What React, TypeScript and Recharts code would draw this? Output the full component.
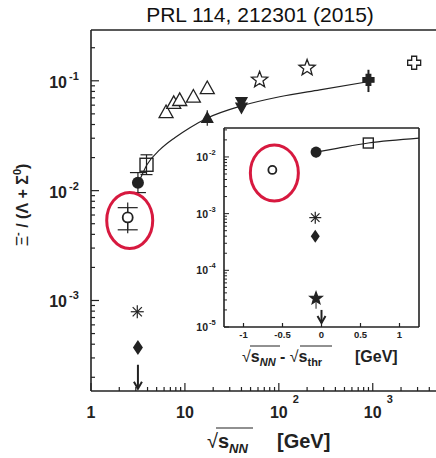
import { ScatterChart, Scatter, XAxis, YAxis, ErrorBar, ReferenceLine } from 'recharts'

const INK = '#222'
const RING = '#d7193f'
const FONT = '"Liberation Sans", Arial, sans-serif'

// ---- main panel: Xi- / (Lambda + Sigma0) vs sqrt(s_NN) ----
const na49 = [
  { x: 6.3, y: 0.052 },
  { x: 7.6, y: 0.063 },
  { x: 8.8, y: 0.067 },
  { x: 12.3, y: 0.072 },
  { x: 17.3, y: 0.086 }
]
const spsFilled = [{ x: 17.3, y: 0.046, ey: [0.007, 0.008] }]
const rhicDown = [
  { x: 40, y: 0.064 },
  { x: 40, y: 0.057 }
]
const rhicStars = [
  { x: 62.4, y: 0.102, ey: [0.01, 0] },
  { x: 200, y: 0.131 }
]
const tevatron = [{ x: 900, y: 0.102, ey: [0.023, 0.024] }]
const lhc = [{ x: 2760, y: 0.146 }]
const agsSquare = [{ x: 3.9, y: 0.0172, ey: [0.0032, 0.004] }]
const agsCircle = [{ x: 3.16, y: 0.0118, ey: [0.0022, 0.0028] }]
const hadesMain = [{ x: 2.46, y: 0.0057, ey: [0.0013, 0.0013], eyTot: [0.0016, 0.0021] }]
const lowAsterisk = [{ x: 3.11, y: 7.9e-4 }]
const lowDiamond = [{ x: 3.16, y: 3.74e-4 }]
const lowLimit = [{ x: 3.16, y: 2.6e-4 }]
const mainFit = [
  { x: 3.32, y: 0.0126 },
  { x: 3.94, y: 0.0172 },
  { x: 5.42, y: 0.0236 },
  { x: 7.8, y: 0.0303 },
  { x: 11.3, y: 0.0374 },
  { x: 17.6, y: 0.0461 },
  { x: 40.4, y: 0.0593 },
  { x: 102, y: 0.0716 },
  { x: 273, y: 0.0828 },
  { x: 885, y: 0.098 }
]

// ---- inset: same ratio vs distance to threshold ----
const insetHades = [{ x: -0.63, y: 0.0059, ey: [0.0008, 0.0008] }]
const insetCircle = [{ x: -0.07, y: 0.0122, ey: [0.0025, 0.0025] }]
const insetSquare = [{ x: 0.6, y: 0.0176 }]
const insetAsterisk = [{ x: -0.08, y: 8.5e-4 }]
const insetDiamond = [{ x: -0.08, y: 4.0e-4 }]
const insetStar = [{ x: -0.07, y: 3.2e-5, ey: [1.1e-5, 0] }]
const insetLimit = [{ x: 0, y: 2.0e-5 }]
const insetFit = [
  { x: -0.07, y: 0.0122 },
  { x: 0.2, y: 0.0142 },
  { x: 0.6, y: 0.0176 },
  { x: 1.25, y: 0.0215 }
]
const insetXTicks = [-1, -0.5, 0, 0.5, 1]

const MAIN_X = [1, 5200]
const MAIN_Y = [1.5e-4, 0.29]
const INSET_X = [-1.25, 1.25]
const INSET_Y = [1e-5, 0.0324]

const logTicks = (lo: number, hi: number) => {
  const out: number[] = []
  for (let e = Math.floor(Math.log10(lo)); e <= Math.ceil(Math.log10(hi)); e++) {
    for (let m = 1; m < 10; m++) {
      const v = m * Math.pow(10, e)
      if (v >= lo * 0.999 && v <= hi * 1.001) out.push(v)
    }
  }
  return out
}
const decade = (v: number) => {
  const l = Math.log10(v)
  return Math.abs(l - Math.round(l)) < 1e-6 ? Math.round(l) : null
}

// ---- marker shapes ----
type P = { cx?: number; cy?: number }

const triangle = (fill: string, r: number, down = false) => ({ cx = 0, cy = 0 }: P) => {
  const s = down ? -1 : 1
  return (
    <polygon
      points={`${cx},${cy - s * r} ${cx - r},${cy + s * r * 0.8} ${cx + r},${cy + s * r * 0.8}`}
      fill={fill}
      stroke={INK}
      strokeWidth={1.3}
    />
  )
}

const starPath = (cx: number, cy: number, R: number, r: number) => {
  let d = ''
  for (let i = 0; i < 10; i++) {
    const a = -Math.PI / 2 + (i * Math.PI) / 5
    const rad = i % 2 ? r : R
    d += (i ? 'L' : 'M') + (cx + rad * Math.cos(a)).toFixed(2) + ',' + (cy + rad * Math.sin(a)).toFixed(2)
  }
  return d + 'Z'
}
const star = (fill: string, R: number) => ({ cx = 0, cy = 0 }: P) => (
  <path d={starPath(cx, cy, R, R * 0.42)} fill={fill} stroke={INK} strokeWidth={1.3} />
)

const plusPath = (cx: number, cy: number, a: number, L: number) =>
  `M${cx - a},${cy - L}H${cx + a}V${cy - a}H${cx + L}V${cy + a}H${cx + a}V${cy + L}H${cx - a}V${cy + a}H${cx - L}V${cy - a}H${cx - a}Z`
const plus = (fill: string, a: number, L: number) => ({ cx = 0, cy = 0 }: P) => (
  <path d={plusPath(cx, cy, a, L)} fill={fill} stroke={INK} strokeWidth={1.3} />
)

const square = (s: number) => ({ cx = 0, cy = 0 }: P) => (
  <rect x={cx - s / 2} y={cy - s / 2} width={s} height={s} fill="none" stroke={INK} strokeWidth={1.4} />
)

const dot = (r: number) => ({ cx = 0, cy = 0 }: P) => <circle cx={cx} cy={cy} r={r} fill={INK} />

// open circle with the red highlight ring around it
const ringed = (r: number, rx: number, ry: number) => ({ cx = 0, cy = 0 }: P) => (
  <g>
    <circle cx={cx} cy={cy} r={r} fill="#fff" stroke={INK} strokeWidth={1.8} />
    <ellipse cx={cx + 2} cy={cy + 3} rx={rx} ry={ry} fill="none" stroke={RING} strokeWidth={3} />
  </g>
)

const asterisk = (r: number) => ({ cx = 0, cy = 0 }: P) => (
  <g stroke={INK} strokeWidth={1.2}>
    {[0, 45, 90, 135].map(a => {
      const dx = r * Math.cos((a * Math.PI) / 180)
      const dy = r * Math.sin((a * Math.PI) / 180)
      return <line key={a} x1={cx - dx} y1={cy - dy} x2={cx + dx} y2={cy + dy} />
    })}
  </g>
)

const diamond = (w: number, h: number) => ({ cx = 0, cy = 0 }: P) => (
  <polygon points={`${cx},${cy - h} ${cx + w},${cy} ${cx},${cy + h} ${cx - w},${cy}`} fill={INK} />
)

// upper limit: arrow pointing down from the value
const limitArrow = (len: number) => ({ cx = 0, cy = 0 }: P) => (
  <g stroke={INK} strokeWidth={2} fill="none">
    <line x1={cx} y1={cy} x2={cx} y2={cy + len} />
    <polyline points={`${cx - 4},${cy + len - 7} ${cx},${cy + len} ${cx + 4},${cy + len - 7}`} />
  </g>
)

const noMark = () => <g />

// ---- ticks (drawn inward) ----
const MainXTick = ({ x, y, payload }: any) => {
  const k = decade(payload.value)
  return (
    <g>
      <line x1={x} y1={y} x2={x} y2={y - (k !== null ? 8 : 4)} stroke={INK} strokeWidth={1.2} />
      {k !== null && (
        <text x={x} y={y + 27} textAnchor="middle" fontSize={16} fontWeight="bold" fill={INK}>
          {k === 0 ? '1' : '10'}
        </text>
      )}
      {k !== null && k >= 2 && (
        <text x={x + 14} y={y + 12} fontSize={11} fontWeight="bold" fill={INK}>
          {k}
        </text>
      )}
    </g>
  )
}

const MainYTick = ({ x, y, payload }: any) => {
  const k = decade(payload.value)
  return (
    <g>
      <line x1={x} y1={y} x2={x + (k !== null ? 8 : 4)} y2={y} stroke={INK} strokeWidth={1.2} />
      {k !== null && (
        <g fill={INK} fontWeight="bold">
          <text x={x - 24} y={y + 7} textAnchor="end" fontSize={16}>10</text>
          <text x={x - 22} y={y - 1} fontSize={11}>{k}</text>
        </g>
      )}
    </g>
  )
}

const InsetXTick = ({ x, y, payload }: any) => (
  <g>
    <line x1={x} y1={y} x2={x} y2={y - 4} stroke={INK} strokeWidth={1.2} />
    <text x={x} y={y + 11} textAnchor="middle" fontSize={9.5} fontWeight="bold" fill={INK}>
      {payload.value}
    </text>
  </g>
)

const InsetYTick = ({ x, y, payload }: any) => {
  const k = decade(payload.value)
  return (
    <g>
      <line x1={x} y1={y} x2={x + (k !== null ? 5 : 3)} y2={y} stroke={INK} strokeWidth={1} />
      {k !== null && (
        <g fill={INK} fontWeight="bold">
          <text x={x - 16} y={y + 4} textAnchor="end" fontSize={10.5}>10</text>
          <text x={x - 15} y={y - 2} fontSize={7.5}>{k}</text>
        </g>
      )}
    </g>
  )
}

const axisLine = { stroke: INK, strokeWidth: 1.6 }

export default function App() {
  return (
    <div
      style={{
        position: 'absolute',
        left: 0,
        top: 0,
        width: 436,
        height: 458,
        overflow: 'hidden',
        background: '#fff',
        fontFamily: FONT
      }}
    >
      <div style={{ position: 'absolute', left: 0, top: 0 }}>
        <ScatterChart width={450} height={458} margin={{ top: 30, right: 10, bottom: 0, left: 0 }}>
          <XAxis
            dataKey="x"
            type="number"
            scale="log"
            domain={MAIN_X}
            allowDataOverflow
            ticks={logTicks(MAIN_X[0], MAIN_X[1])}
            interval={0}
            height={67}
            tickSize={0}
            tickMargin={0}
            tickLine={false}
            axisLine={axisLine}
            tick={<MainXTick />}
          />
          <YAxis
            dataKey="y"
            type="number"
            scale="log"
            domain={MAIN_Y}
            allowDataOverflow
            ticks={logTicks(MAIN_Y[0], MAIN_Y[1])}
            interval={0}
            width={91}
            tickSize={0}
            tickMargin={0}
            tickLine={false}
            axisLine={axisLine}
            tick={<MainYTick />}
          />
          <ReferenceLine y={MAIN_Y[1]} stroke={INK} strokeWidth={1.6} ifOverflow="visible" />
          <Scatter
            data={mainFit}
            shape={noMark}
            line={{ stroke: INK, strokeWidth: 1.2 }}
            lineJointType="monotoneX"
            isAnimationActive={false}
          />
          <Scatter data={na49} shape={triangle('#fff', 7)} isAnimationActive={false} />
          <Scatter data={spsFilled} shape={triangle(INK, 5.5)} isAnimationActive={false}>
            <ErrorBar dataKey="ey" direction="y" width={0} stroke={INK} strokeWidth={1.2} />
          </Scatter>
          <Scatter data={rhicDown} shape={triangle(INK, 5.5, true)} isAnimationActive={false} />
          <Scatter data={rhicStars} shape={star('#fff', 8.5)} isAnimationActive={false}>
            <ErrorBar dataKey="ey" direction="y" width={0} stroke={INK} strokeWidth={1} />
          </Scatter>
          <Scatter data={tevatron} shape={plus(INK, 2.3, 5.5)} isAnimationActive={false}>
            <ErrorBar dataKey="ey" direction="y" width={0} stroke={INK} strokeWidth={2} />
          </Scatter>
          <Scatter data={lhc} shape={plus('#fff', 2.5, 6.5)} isAnimationActive={false} />
          <Scatter data={agsSquare} shape={square(13)} isAnimationActive={false}>
            <ErrorBar dataKey="ey" direction="y" width={6} stroke={INK} strokeWidth={1.2} />
          </Scatter>
          <Scatter data={agsCircle} shape={dot(6)} isAnimationActive={false}>
            <ErrorBar dataKey="ey" direction="y" width={8} stroke={INK} strokeWidth={1.2} />
          </Scatter>
          <Scatter data={hadesMain} shape={ringed(5, 23, 28)} isAnimationActive={false}>
            <ErrorBar dataKey="eyTot" direction="y" width={0} stroke={INK} strokeWidth={1.2} />
            <ErrorBar dataKey="ey" direction="y" width={10} stroke={INK} strokeWidth={1.2} />
          </Scatter>
          <Scatter data={lowAsterisk} shape={asterisk(6.5)} isAnimationActive={false} />
          <Scatter data={lowDiamond} shape={diamond(5, 7.5)} isAnimationActive={false} />
          <Scatter data={lowLimit} shape={limitArrow(24)} isAnimationActive={false} />
        </ScatterChart>
      </div>

      <div style={{ position: 'absolute', left: 160, top: 118 }}>
        <ScatterChart width={264} height={254} margin={{ top: 10, right: 5, bottom: 0, left: 0 }}>
          <XAxis
            dataKey="x"
            type="number"
            domain={INSET_X}
            allowDataOverflow
            ticks={insetXTicks}
            interval={0}
            height={45}
            tickSize={0}
            tickMargin={0}
            tickLine={false}
            axisLine={axisLine}
            tick={<InsetXTick />}
          />
          <YAxis
            dataKey="y"
            type="number"
            scale="log"
            domain={INSET_Y}
            allowDataOverflow
            ticks={logTicks(INSET_Y[0], INSET_Y[1])}
            interval={0}
            width={64}
            tickSize={0}
            tickMargin={0}
            tickLine={false}
            axisLine={axisLine}
            tick={<InsetYTick />}
          />
          <ReferenceLine y={INSET_Y[1]} stroke={INK} strokeWidth={1.6} ifOverflow="visible" />
          <ReferenceLine x={INSET_X[1]} stroke={INK} strokeWidth={1.6} ifOverflow="visible" />
          <Scatter
            data={insetFit}
            shape={noMark}
            line={{ stroke: INK, strokeWidth: 1.2 }}
            lineJointType="monotoneX"
            isAnimationActive={false}
          />
          <Scatter data={insetCircle} shape={dot(5.5)} isAnimationActive={false}>
            <ErrorBar dataKey="ey" direction="y" width={0} stroke={INK} strokeWidth={1.2} />
          </Scatter>
          <Scatter data={insetSquare} shape={square(10)} isAnimationActive={false} />
          <Scatter data={insetHades} shape={ringed(4, 24, 28)} isAnimationActive={false}>
            <ErrorBar dataKey="ey" direction="y" width={0} stroke={INK} strokeWidth={1.2} />
          </Scatter>
          <Scatter data={insetAsterisk} shape={asterisk(6)} isAnimationActive={false} />
          <Scatter data={insetDiamond} shape={diamond(4.5, 6.5)} isAnimationActive={false} />
          <Scatter data={insetStar} shape={star(INK, 6.5)} isAnimationActive={false}>
            <ErrorBar dataKey="ey" direction="y" width={0} stroke={INK} strokeWidth={1} />
          </Scatter>
          <Scatter data={insetLimit} shape={limitArrow(13)} isAnimationActive={false} />
        </ScatterChart>
      </div>

      {/* title and axis titles */}
      <svg
        width={436}
        height={458}
        style={{ position: 'absolute', left: 0, top: 0, pointerEvents: 'none' }}
        fontFamily={FONT}
        fill={INK}
      >
        <text x={260} y={22} textAnchor="middle" fontSize={21} fill="#111">
          PRL 114, 212301 (2015)
        </text>

        {/* main x title */}
        <text x={207} y={448} fontSize={20} fontWeight="bold">
          <tspan fontWeight="normal">√</tspan>
          <tspan>s</tspan>
          <tspan fontSize={13} fontStyle="italic" dy={5}>NN</tspan>
        </text>
        <line x1={216} y1={428} x2={253} y2={428} stroke={INK} strokeWidth={1.2} />
        <text x={277} y={448} fontSize={20} fontWeight="bold">[GeV]</text>

        {/* main y title */}
        <g transform="translate(28,205) rotate(-90)">
          <text x={0} y={0} textAnchor="middle" fontSize={16} fontWeight="bold">
            <tspan fontWeight="normal">Ξ</tspan>
            <tspan fontSize={11} dy={-7}>-</tspan>
            <tspan dy={7}> / (Λ + Σ</tspan>
            <tspan fontSize={11} dy={-7}>0</tspan>
            <tspan dy={7}>)</tspan>
          </text>
        </g>

        {/* inset x title */}
        <text x={242} y={362} fontSize={16} fontWeight="bold">
          <tspan fontWeight="normal">√</tspan>
          <tspan>s</tspan>
          <tspan fontSize={11} fontStyle="italic" dy={4}>NN</tspan>
          <tspan dy={-4}> - </tspan>
          <tspan fontWeight="normal">√</tspan>
          <tspan>s</tspan>
          <tspan fontSize={11} dy={4}>thr</tspan>
        </text>
        <line x1={250} y1={346} x2={280} y2={346} stroke={INK} strokeWidth={1} />
        <line x1={300} y1={346} x2={332} y2={346} stroke={INK} strokeWidth={1} />
        <text x={355} y={362} fontSize={16} fontWeight="bold">[GeV]</text>
      </svg>
    </div>
  )
}
